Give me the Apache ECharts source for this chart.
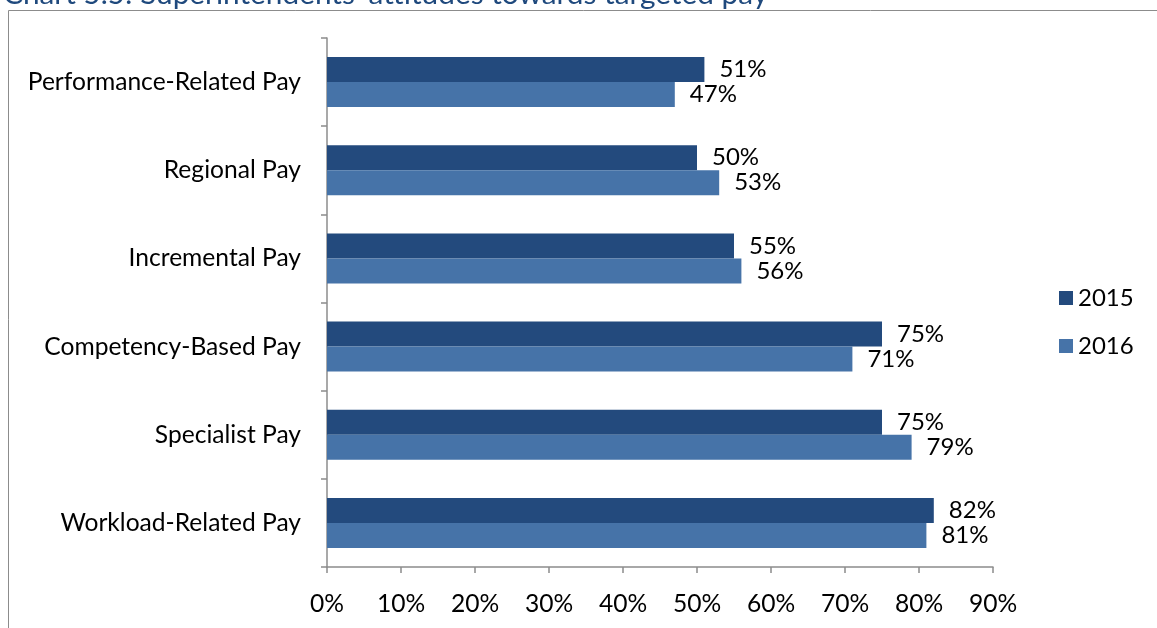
<!DOCTYPE html>
<html>
<head>
<meta charset="utf-8">
<script src="https://cdn.jsdelivr.net/npm/echarts@6/dist/echarts.min.js"></script>
<style>
  html, body { margin: 0; padding: 0; background: #fff; }
  #chart { width: 1157px; height: 628px; }
</style>
</head>
<body>
<div id="chart"></div>
<script>
// Pay types, top to bottom
const categories = [
  'Performance-Related Pay',
  'Regional Pay',
  'Incremental Pay',
  'Competency-Based Pay',
  'Specialist Pay',
  'Workload-Related Pay'
];
// Share of superintendents (%) by survey year
const values2015 = [51, 50, 55, 75, 75, 82];
const values2016 = [47, 53, 56, 71, 79, 81];
const seriesNames = ['2015', '2016'];
const xTicks = { min: 0, max: 90, interval: 10 };

const FONT = 'Lato, "Open Sans", sans-serif';
const FS = 24.6;
const chart = echarts.init(document.getElementById('chart'), null, { renderer: 'canvas' });

const labelStyle = {
  show: true,
  position: 'right',
  distance: 15,
  formatter: p => p.value + '%',
  color: '#000',
  fontSize: 24,
  fontFamily: FONT
};

chart.setOption({
  animation: false,
  backgroundColor: '#fff',
  title: {
    text: "Chart 5.5: Superintendents' attitudes towards targeted pay",
    left: -2,
    top: -26,
    textStyle: { color: '#1F497D', fontSize: 29.8, fontWeight: 'normal', fontFamily: FONT }
  },
  graphic: [{
    type: 'rect',
    shape: { x: 8.5, y: 10.5, width: 1300, height: 800 },
    style: { fill: 'none', stroke: '#8c8c8c', lineWidth: 1 },
    silent: true
  }],
  legend: {
    orient: 'vertical',
    left: 1054,
    top: 281,
    itemWidth: 14,
    itemHeight: 14,
    itemGap: 24,
    icon: 'rect',
    data: seriesNames,
    textStyle: { fontSize: 24, color: '#000', fontFamily: FONT }
  },
  grid: { left: 327, right: 164, top: 38, bottom: 61 },
  xAxis: {
    type: 'value',
    min: xTicks.min,
    max: xTicks.max,
    interval: xTicks.interval,
    axisLine: { show: true, lineStyle: { color: '#8c8c8c', width: 1.5 } },
    axisTick: { show: true, length: 6, lineStyle: { color: '#8c8c8c', width: 1.5 } },
    splitLine: { show: false },
    axisLabel: { formatter: '{value}%', fontSize: FS, color: '#000', margin: 25, fontFamily: FONT }
  },
  yAxis: {
    type: 'category',
    inverse: true,
    data: categories,
    axisLine: { show: true, lineStyle: { color: '#8c8c8c', width: 1.5 } },
    axisTick: { show: true, length: 6, alignWithLabel: false, lineStyle: { color: '#8c8c8c', width: 1.5 } },
    axisLabel: { fontSize: FS, color: '#000', margin: 26, fontFamily: FONT }
  },
  series: [
    {
      name: seriesNames[0],
      type: 'bar',
      data: values2015,
      barWidth: 25,
      barGap: '0%',
      itemStyle: { color: '#234A7D' },
      label: labelStyle
    },
    {
      name: seriesNames[1],
      type: 'bar',
      data: values2016,
      barWidth: 25,
      barGap: '0%',
      itemStyle: { color: '#4673A8' },
      label: labelStyle
    }
  ]
});
</script>
</body>
</html>
